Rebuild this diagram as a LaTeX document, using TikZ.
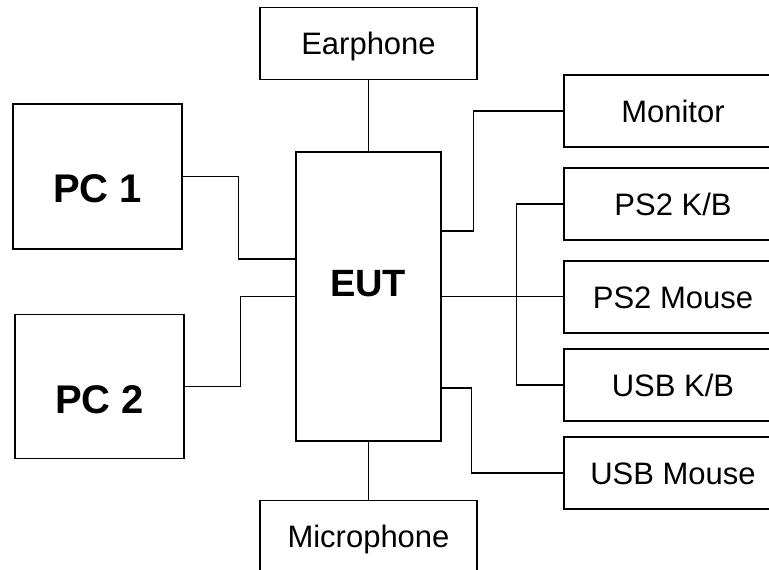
\documentclass[tikz,border=0pt]{standalone}
\usepackage{fontspec}
\setmainfont{Liberation Sans}
\usetikzlibrary{positioning}
\tikzstyle{line} = [draw, line width=1.4pt]
\tikzstyle{device} = [rectangle, draw, line width=1.4pt, minimum width=218pt,
    minimum height=72pt, inner sep=0pt, text height=22.2pt, text depth=0pt,
    font=\fontsize{31}{36}\selectfont]
\tikzstyle{pc} = [rectangle, draw, line width=1.4pt, minimum width=169pt,
    minimum height=145pt, inner sep=0pt]
\tikzstyle{bold} = [inner sep=0pt, text depth=0pt, font=\fontsize{40}{44}\selectfont\bfseries]

\begin{document}
\begin{tikzpicture}
[x=1pt, y=1pt, node distance = 22pt]
    \useasboundingbox (0,0) rectangle (769,-570);
    % Place nodes
    \node [pc, minimum width=145pt, minimum height=289pt] (eut) at (368.5,-296.5) {};
    \node [bold, font=\fontsize{38}{42}\selectfont\bfseries] (euttext) at (368,-283.5) {EUT};
    \node [device, minimum width=217pt, above=71pt of eut] (earphone) {Earphone};
    \node [device, minimum width=217pt, below=58pt of eut] (mic) {Microphone};

    \node [pc] (pc1) at (97.5,-176.5) {};
    \node [bold, below of=pc1, node distance=12pt] (pc1text) {PC 1};
    \node [pc, below=64pt of pc1, xshift=2pt, minimum height=144pt] (pc2) {};
    \node [bold, below of=pc2, node distance=13pt] (pc2text) {PC 2};

    \node [device] (monitor) at (673,-111) {Monitor};
    \node [device, below of=monitor, node distance=93pt] (ps2kb) {PS2 K/B};
    \node [device, below of=ps2kb, node distance=93pt] (ps2mouse) {PS2 Mouse};
    \node [device, below of=ps2mouse, node distance=88pt] (usbkb) {USB K/B};
    \node [device, below of=usbkb, node distance=88pt] (usbmouse) {USB Mouse};

    % Draw edges
    \path [line] (pc1.east) -- ++(56,0) |- ([yshift=37.5pt]eut.west);
    \path [line] (pc2.east) -- ++(56,0) |- (eut.west);
    \path [line] (earphone.south) -- (earphone.south |- eut.north);
    \path [line] (eut.south) -- (eut.south |- mic.north);
    \path [line] ([yshift=65.5pt]eut.east) -- ++(32,0) |- (monitor.west);
    \path [line] (eut.east) -- (eut.east -| ps2mouse.west);
    \path [line] (ps2kb.west) -- ++(-47,0) |- (usbkb.west);
    \path [line] ([yshift=-91.5pt]eut.east) -- ++(30,0) |- (usbmouse.west);

\end{tikzpicture}
\end{document}
